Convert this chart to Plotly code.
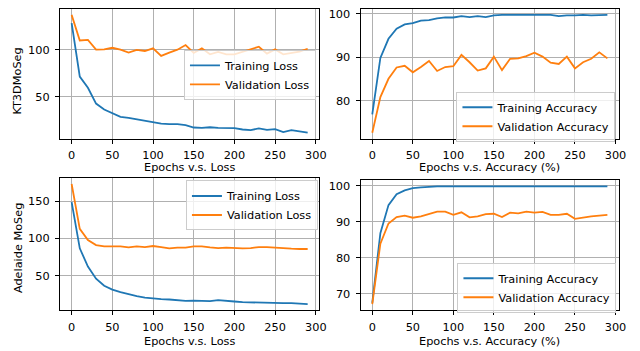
import plotly.graph_objects as go

epochs = list(range(0, 300, 10))

kt_train_loss = [128, 71.5, 59.7, 43, 36.8, 32.6, 29, 28, 26.4, 25.3, 23.6, 21.9, 21.2, 21.2, 20.2,
                 17.7, 17.4, 18, 17.4, 17.4, 17, 15.6, 15, 16.7, 15.3, 16, 12.8, 15, 13.5, 12.2]
kt_val_loss = [136.8, 109.7, 110.4, 100, 100.3, 102, 100, 96.9, 99.7, 98.6, 101.4, 93.4, 96.9, 100, 104.9,
               96.5, 101.4, 95.1, 97.6, 95.1, 95.1, 97.6, 100.3, 103.1, 95.8, 100.3, 95.1, 96.9, 97.9, 101]
kt_train_acc = [76.9, 89.9, 94.3, 96.6, 97.6, 97.9, 98.5, 98.6, 99.0, 99.2, 99.2, 99.5, 99.3, 99.5, 99.3,
                99.7, 99.8, 99.8, 99.8, 99.7, 99.7, 99.7, 99.8, 99.5, 99.7, 99.7, 99.8, 99.7, 99.8, 99.8]
kt_val_acc = [72.7, 80.9, 85.1, 87.7, 88.1, 86.6, 87.8, 89.2, 86.9, 87.8, 88.0, 90.6, 88.9, 87.0, 87.5,
              90.2, 87.1, 89.7, 89.8, 90.3, 91.1, 90.2, 88.8, 88.5, 90.2, 87.5, 88.9, 89.7, 91.2, 89.8]

ad_train_loss = [149, 86.7, 62.2, 45.8, 36.4, 31.1, 27.6, 24.4, 22.2, 20.4, 19.1, 18.2, 17.8, 16.9, 16,
                 16.4, 16, 15.6, 16.9, 15.6, 15.1, 14.2, 13.8, 13.8, 13.8, 12.9, 12.9, 12.9, 12.4, 11.6]
ad_val_loss = [173.3, 112.9, 97.8, 91.1, 89.3, 89.3, 89.3, 88, 89.3, 88.4, 89.8, 88.4, 86.7, 87.6, 87.6,
               89.3, 89.3, 88, 87.1, 87.6, 87.1, 86.7, 87.1, 88.4, 88.4, 87.6, 86.2, 86.2, 85.8, 85.8]
ad_train_acc = [67.5, 86.8, 94.6, 97.6, 98.7, 99.3, 99.5, 99.7, 99.8, 99.8, 99.8, 99.8, 99.8, 99.8, 99.8,
                99.8, 99.8, 99.8, 99.7, 99.8, 99.8, 99.8, 99.8, 99.8, 99.8, 99.8, 99.8, 99.8, 99.8, 99.8]
ad_val_acc = [67.1, 83.9, 89.5, 91.3, 91.7, 91.1, 91.5, 92.1, 92.8, 92.8, 91.9, 92.6, 91.2, 91.5, 92.1,
              92.2, 91.3, 92.5, 92.3, 92.8, 92.5, 92.7, 91.9, 91.9, 92.2, 90.8, 91.2, 91.5, 91.7, 91.9]

BLUE = "#1f77b4"
ORANGE = "#ff7f0e"
W, H = 640, 351
FONT = "DejaVu Sans"
FS = 11.3

def px_x(v):
    return v / W

def px_y(v):
    return 1 - v / H

def pad_range(*series):
    lo = min(min(s) for s in series)
    hi = max(max(s) for s in series)
    d = (hi - lo) * 0.05
    return [lo - d, hi + d]

fig = go.Figure()

panels = [
    ("x", "y", kt_train_loss, kt_val_loss, "Training Loss", "Validation Loss", "legend", 50),
    ("x2", "y2", kt_train_acc, kt_val_acc, "Training Accuracy", "Validation Accuracy", "legend2", 10),
    ("x3", "y3", ad_train_loss, ad_val_loss, "Training Loss", "Validation Loss", "legend3", 50),
    ("x4", "y4", ad_train_acc, ad_val_acc, "Training Accuracy", "Validation Accuracy", "legend4", 10),
]

for xa, ya, tr, va, tn, vn, lg, dt in panels:
    fig.add_trace(go.Scatter(x=epochs, y=tr, mode="lines", name=tn, xaxis=xa, yaxis=ya,
                             line=dict(color=BLUE, width=1.8), legend=lg))
    fig.add_trace(go.Scatter(x=epochs, y=va, mode="lines", name=vn, xaxis=xa, yaxis=ya,
                             line=dict(color=ORANGE, width=1.8), legend=lg))

domains = [
    ([60.5, 323], [138, 8]),
    ([364.5, 626], [138, 8]),
    ([60.5, 323], [310, 177.5]),
    ([364.5, 626], [310, 180]),
]

axis_common = dict(
    showline=True, linecolor="black", linewidth=1, mirror=True,
    showgrid=True, gridcolor="#b0b0b0", gridwidth=1,
    ticks="outside", ticklen=4, tickwidth=1, tickcolor="black",
    tickfont=dict(family=FONT, size=FS, color="black"),
    zeroline=False,
)

layout = dict(
    width=W, height=H,
    margin=dict(l=0, r=0, t=0, b=0),
    paper_bgcolor="white", plot_bgcolor="white",
    font=dict(family=FONT, size=FS, color="black"),
)

for i, ((xa, ya, tr, va, tn, vn, lg, dt), (xd, yd)) in enumerate(zip(panels, domains)):
    sfx = "" if i == 0 else str(i + 1)
    layout["xaxis" + sfx] = dict(axis_common, domain=[px_x(xd[0]), px_x(xd[1])],
                                 anchor="y" + sfx, range=[-14.5, 304.5], dtick=50, tick0=0,
                                 ticklabelstandoff=2)
    layout["yaxis" + sfx] = dict(axis_common, domain=[px_y(yd[0]), px_y(yd[1])],
                                 anchor="x" + sfx, range=pad_range(tr, va), dtick=dt, tick0=0,
                                 ticklabelstandoff=3)

legend_style = dict(bgcolor="rgba(255,255,255,0.8)", bordercolor="#cccccc", borderwidth=1,
                    font=dict(family=FONT, size=FS, color="black"), itemwidth=30,
                    xanchor="left", yanchor="top", tracegroupgap=0)
layout["legend"] = dict(legend_style, x=px_x(186), y=px_y(49))
layout["legend2"] = dict(legend_style, x=px_x(461.5), y=px_y(91))
layout["legend3"] = dict(legend_style, x=px_x(188), y=px_y(180))
layout["legend4"] = dict(legend_style, x=px_x(462.5), y=px_y(262.5))

fig.update_layout(**layout)

annos = [
    ("Epochs v.s. Loss", 191.5, 167, 0),
    ("Epochs v.s. Accuracy (%)", 495, 167, 0),
    ("Epochs v.s. Loss", 191.5, 341.5, 0),
    ("Epochs v.s. Accuracy (%)", 495, 341.5, 0),
    ("KT3DMoSeg", 18, 80, -90),
    ("Adelaide MoSeg", 18, 247, -90),
]
for text, x, y, ang in annos:
    fig.add_annotation(text=text, xref="paper", yref="paper", x=px_x(x), y=px_y(y),
                       xanchor="center", yanchor="middle", showarrow=False, textangle=ang,
                       font=dict(family=FONT, size=FS, color="black"))

fig.write_html("out.html", config={"displayModeBar": False},
               post_script="document.body.style.margin='0';document.body.style.overflow='hidden';")
